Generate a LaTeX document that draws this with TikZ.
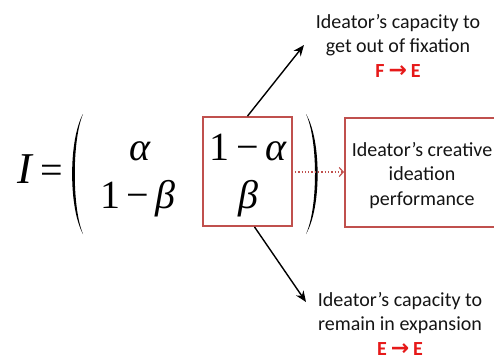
\documentclass[tikz,border=0pt]{standalone}
\usepackage{fontspec}
\setmainfont{Carlito}
\newfontfamily\tms{Liberation Serif}
\newfontfamily\djv{DejaVu Sans}
\usetikzlibrary{arrows.meta,calc}
\definecolor{boxred}{RGB}{192,80,77}
\definecolor{txtred}{RGB}{230,25,25}
\definecolor{txtgray}{RGB}{20,20,20}
\begin{document}
\begin{tikzpicture}[x=1pt,y=-1pt,
  lbl/.style={font=\fontsize{20}{24.3}\selectfont, align=center, anchor=base, inner sep=0pt, text=txtgray},
  mat/.style={font=\tms\fontsize{40}{40}\selectfont, anchor=base, inner sep=0pt},
  hl/.style={draw=boxred, line width=1.8pt},
  arr/.style={-{Stealth[length=11pt,width=9pt]}, line width=1.4pt},
  dotarr/.style={boxred, dotted, line width=1.3pt, -{Straight Barb[length=4pt,width=9pt,line width=1.2pt]}},
  redtxt/.style={text=txtred}
]
\useasboundingbox (0,0) rectangle (494,360);

% I =
\node[mat, font=\tms\itshape\fontsize{44}{44}\selectfont] (I) at (25,183) {I};
\node[mat] (eq) at (52,183) {=};

% parentheses
\fill (83,114) .. controls (68.5,140) and (68.5,208) .. (83,234)
      .. controls (72,208) and (72,140) .. (83,114) -- cycle;
\fill (306,114) .. controls (321.5,140) and (321.5,208) .. (306,234)
      .. controls (318,208) and (318,140) .. (306,114) -- cycle;

% matrix entries
\node[mat] (a11) at (140,160) {{\itshape α}};
\node[mat] (a21) at (138,208) {1\,−\,{\itshape β}};
\node[mat] (a12) at (248,160) {1\,−\,{\itshape α}};
\node[mat] (a22) at (248,208) {{\itshape β}};

% highlight box
\node[hl, minimum width=89pt, minimum height=109pt, inner sep=0pt] (hbox) at (247.5,171.5) {};

% performance box (open at right edge)
\draw[hl] (496,118) -| (345,227) -- (496,227);
\coordinate (pbox) at (344,172);
\node[lbl] (perf) at (422,205) {Ideator’s creative\\ideation\\performance};

% top text
\node[lbl] (top) at (398,77) {Ideator’s capacity to\\get out of fixation\\{\color{txtred}\bfseries F\hspace{4pt}{\djv\bfseries\fontsize{22}{22}\selectfont →}\hspace{4pt}E}};
% bottom text
\node[lbl] (bot) at (400,355) {Ideator’s capacity to\\remain in expansion\\{\color{txtred}\bfseries E\hspace{4pt}{\djv\bfseries\fontsize{22}{22}\selectfont →}\hspace{4pt}E}};

% connectors
\coordinate (tipU) at (304,45);
\coordinate (tipD) at (306,302);
\draw[arr] (hbox.north) -- (tipU);
\draw[arr] ($(hbox.south)+(7,0)$) -- (tipD);
\draw[dotarr] ($(hbox.east)+(2,0.5)$) -- (pbox);
\end{tikzpicture}
\end{document}
